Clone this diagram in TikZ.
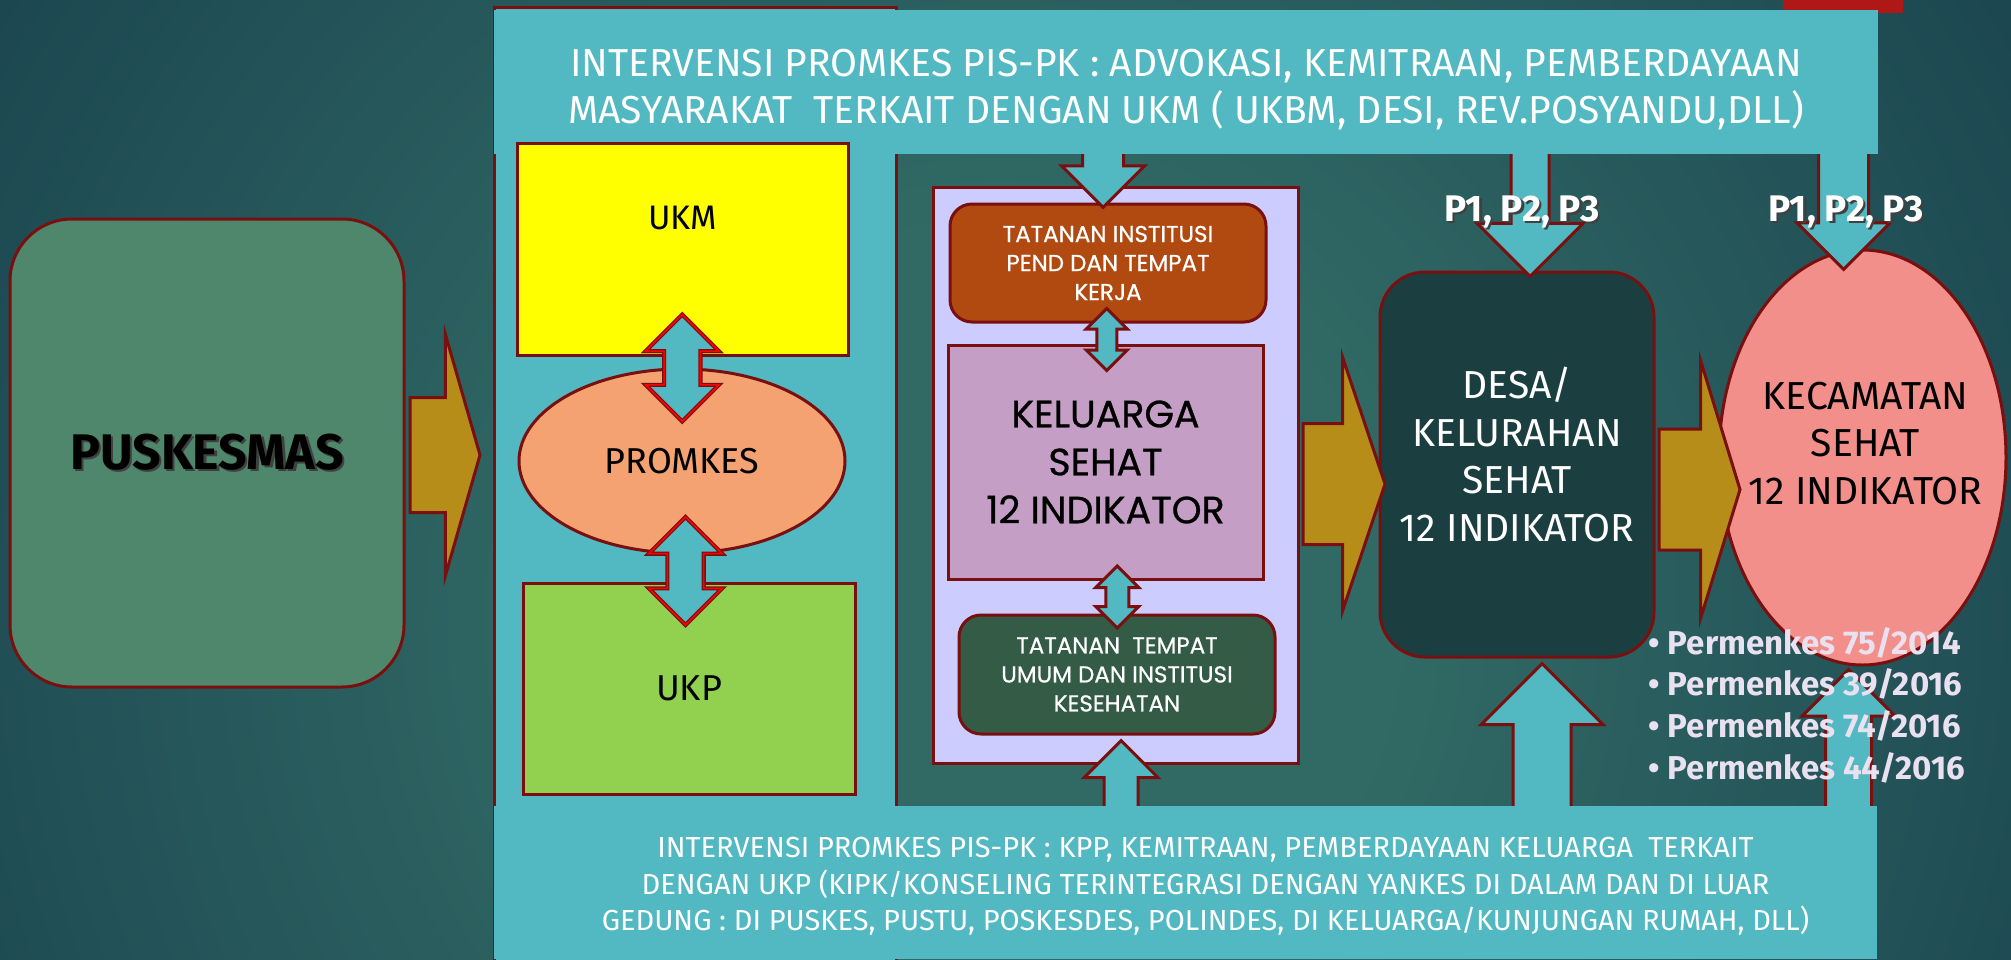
\documentclass[tikz,border=0pt]{standalone}
\usepackage{fontspec}
\setmainfont{Fira Sans}
\newfontfamily\widefont{Poppins}[FakeBold=0.7]
\usetikzlibrary{shapes.geometric, shapes.arrows, calc}
\definecolor{bgdark}{HTML}{153B4A}
\definecolor{bgmid}{HTML}{316A65}
\definecolor{bordo}{HTML}{7A0F0F}
\definecolor{tosca}{HTML}{52B8C1}
\definecolor{emas}{HTML}{B58D18}
\definecolor{kuning}{HTML}{FFFF00}
\definecolor{salem}{HTML}{F4A271}
\definecolor{hijau}{HTML}{92D050}
\definecolor{hijaupus}{HTML}{4E876B}
\definecolor{lavender}{HTML}{CCCCFF}
\definecolor{oranye}{HTML}{B04A10}
\definecolor{ungu}{HTML}{C49EC4}
\definecolor{hijautua}{HTML}{335B46}
\definecolor{gelap}{HTML}{1B3F40}
\definecolor{merahmuda}{HTML}{F28F8B}
\definecolor{lila}{HTML}{E9E0F0}
\definecolor{merahpojok}{HTML}{B01818}
\pgfdeclareradialshading{latar}{\pgfpointorigin}{color(0bp)=(bgmid); color(8bp)=(bgmid); color(30bp)=(bgdark); color(50bp)=(bgdark)}
\tikzstyle{box} = [rectangle, draw=bordo, line width=3pt, inner sep=0pt]
\tikzstyle{goldarrow} = [single arrow, draw=bordo, fill=emas, line width=3pt, inner xsep=0pt]
\tikzstyle{cyanarrow} = [single arrow, draw=bordo, fill=tosca, line width=3pt, single arrow tip angle=90]
\tikzstyle{twoway} = [double arrow, draw=bordo, fill=tosca, line width=3pt, double arrow tip angle=90, shape border rotate=90]
\tikzstyle{twowayred} = [twoway, line width=1.3pt, double=red, double distance=1.6pt]
\newcommand{\shadowtext}[2][black!75]{\rlap{\kern2.5pt\raisebox{-2.5pt}{\textcolor{#1}{#2}}}#2}

\begin{document}
\begin{tikzpicture}[x=1pt, y=-1pt]
\useasboundingbox (0,0) rectangle (2011,959);
\clip (0,0) rectangle (2011,959);
\shade[shading=latar] (-200,-580) rectangle (2200,1820);
\fill[merahpojok] (1783,-5) rectangle (1903,13);

\node (pusk) [box, rounded corners=62pt, fill=hijaupus, minimum width=394pt, minimum height=468pt, font=\bfseries\fontsize{50}{60}\selectfont] at (207,453) {\shadowtext{PUSKESMAS}};
\node (panel) [box, fill=tosca, minimum width=402pt, minimum height=968pt] at (695,491) {};

\node (lav) [box, fill=lavender, minimum width=365pt, minimum height=576pt] at (1115.5,475) {};
\node (tat1) [box, rounded corners=22pt, fill=oranye, minimum width=316pt, minimum height=118pt, text=white, align=center, font=\widefont\fontsize{23}{29}\selectfont] at (1108,263) {TATANAN INSTITUSI\\PEND DAN TEMPAT\\KERJA};
\node (kel) [box, fill=ungu, minimum width=315pt, minimum height=234pt, align=center, font=\widefont\fontsize{38}{48}\selectfont] at (1105.5,462) {KELUARGA\\SEHAT\\12 INDIKATOR};
\node (tat2) [box, rounded corners=22pt, fill=hijautua, minimum width=316pt, minimum height=119pt, text=white, align=center, font=\widefont\fontsize{23}{29}\selectfont] at (1117,674.5) {TATANAN\ \ TEMPAT\\UMUM DAN INSTITUSI\\KESEHATAN};

\node (desa) [box, rounded corners=45pt, fill=gelap, minimum width=274pt, minimum height=385pt, label={[text=white, align=center, font=\fontsize{39}{47.5}\selectfont, yshift=10pt]center:DESA/\\KELURAHAN\\SEHAT\\12 INDIKATOR}] at (1517,464.5) {};
\node (kec) [ellipse, draw=bordo, fill=merahmuda, line width=3pt, inner sep=0pt, minimum width=287pt, minimum height=415pt, label={[align=center, font=\fontsize{39}{47.5}\selectfont, xshift=3pt, yshift=14pt]center:KECAMATAN\\SEHAT\\12 INDIKATOR}] at (1862.5,457.5) {};

\node (d1) [cyanarrow, shape border rotate=270, inner sep=19pt, minimum height=85pt, minimum width=80pt, single arrow head extend=21pt, anchor=tip] at ([xshift=-5pt, yshift=-7pt]tat1.north) {};
\node (d2) [cyanarrow, shape border rotate=270, inner sep=17.5pt, minimum height=140pt, minimum width=103pt, single arrow head extend=34pt, anchor=tip] at ([xshift=13pt, yshift=-8pt]desa.north) {};
\node (d3) [cyanarrow, shape border rotate=270, inner sep=23.5pt, minimum height=133pt, minimum width=90pt, single arrow head extend=21.5pt, anchor=tip] at ([xshift=-19pt, yshift=-23pt]kec.north) {};
\node (u1) [cyanarrow, shape border rotate=90, inner sep=15.5pt, minimum height=83pt, minimum width=71pt, single arrow head extend=20pt, anchor=tip] at ([xshift=4pt, yshift=-3pt]tat2.south) {};
\node (u2) [cyanarrow, shape border rotate=90, inner sep=27.5pt, minimum height=160pt, minimum width=119pt, single arrow head extend=32pt, anchor=tip] at ([xshift=25pt, yshift=-3pt]desa.south) {};
\node (u3) [cyanarrow, shape border rotate=90, inner sep=21.5pt, minimum height=152pt, minimum width=90pt, single arrow head extend=23.5pt, anchor=tip] at ([xshift=-14pt, yshift=-1pt]kec.south) {};

\node (topbar) [rectangle, fill=tosca, inner sep=0pt, minimum width=1384pt, minimum height=144pt, label={[text=white, align=center, font=\fontsize{39}{47}\selectfont, yshift=-8pt]center:INTERVENSI PROMKES PIS-PK : ADVOKASI, KEMITRAAN, PEMBERDAYAAN\\MASYARAKAT\ \ TERKAIT DENGAN UKM ( UKBM, DESI, REV.POSYANDU,DLL)}] at (1186,82) {};
\node (botbar) [rectangle, fill=tosca, inner sep=0pt, minimum width=1383pt, minimum height=153pt, label={[text=white, align=center, font=\fontsize{29}{36.5}\selectfont, xshift=20pt, yshift=-4pt]center:INTERVENSI PROMKES PIS-PK : KPP, KEMITRAAN, PEMBERDAYAAN KELUARGA\ \ TERKAIT\\DENGAN UKP (KIPK/KONSELING TERINTEGRASI DENGAN YANKES DI DALAM DAN DI LUAR\\GEDUNG : DI PUSKES, PUSTU, POSKESDES, POLINDES, DI KELUARGA/KUNJUNGAN RUMAH, DLL)}] at (1185.5,882.5) {};

\node (ukm) [box, fill=kuning, minimum width=331pt, minimum height=212pt, label={[font=\fontsize{34}{40}\selectfont, yshift=31pt]center:UKM}] at (682.5,249) {};
\node (promkes) [ellipse, draw=bordo, fill=salem, line width=3pt, inner sep=0pt, minimum width=326pt, minimum height=184pt, font=\fontsize{36}{40}\selectfont] at (682,461) {PROMKES};
\node (ukp) [box, fill=hijau, minimum width=332pt, minimum height=211pt, font=\fontsize{36}{40}\selectfont] at (689,688.5) {UKP};

\node (da1) [twowayred, inner sep=17.5pt, minimum height=107pt, minimum width=72pt, double arrow head extend=18.5pt, yshift=-6pt] at ($(ukm.south)!0.5!(promkes.north)$) {};
\node (da2) [twowayred, inner sep=17.5pt, minimum height=108pt, minimum width=72pt, double arrow head extend=18.5pt, yshift=-3pt] at ($(promkes.south)!0.5!(ukp.north)$) {};
\node (da3) [twoway, inner sep=8.5pt, minimum height=62pt, minimum width=38pt, double arrow head extend=10.5pt, yshift=-6pt] at ($(tat1.south)!0.5!(kel.north)$) {};
\node (da4) [twoway, inner sep=10pt, minimum height=62pt, minimum width=40pt, double arrow head extend=10pt, xshift=6pt] at ($(kel.south)!0.5!(tat2.north)$) {};

\node (a1) [goldarrow, inner ysep=56pt, minimum height=70pt, minimum width=238pt, single arrow head extend=63pt, single arrow tip angle=148, anchor=tail] at ([xshift=3pt, yshift=-2pt]pusk.east) {};
\node (a2) [goldarrow, inner ysep=59pt, minimum height=82pt, minimum width=250pt, single arrow head extend=66pt, single arrow tip angle=143, anchor=tail] at ([xshift=2pt, yshift=-9pt]lav.east) {};
\node (a3) [goldarrow, inner ysep=59pt, minimum height=81pt, minimum width=254pt, single arrow head extend=68pt, single arrow tip angle=146, anchor=tail] at ([xshift=2pt, yshift=-25pt]desa.east) {};

\node (p1) [text=white, font=\bfseries\fontsize{37}{44}\selectfont] at (1522,213) {\shadowtext{P1, P2, P3}};
\node (p2) [text=white, font=\bfseries\fontsize{37}{44}\selectfont, right of=p1, xshift=295.5pt] {\shadowtext{P1, P2, P3}};
\node (perm) [text=lila, align=left, anchor=west, font=\bfseries\fontsize{33}{41.7}\selectfont] at (1645,705) {\textbullet\hspace{8pt}Permenkes 75/2014\\\textbullet\hspace{8pt}Permenkes 39/2016\\\textbullet\hspace{8pt}Permenkes 74/2016\\\textbullet\hspace{8pt}Permenkes 44/2016};
\end{tikzpicture}
\end{document}
